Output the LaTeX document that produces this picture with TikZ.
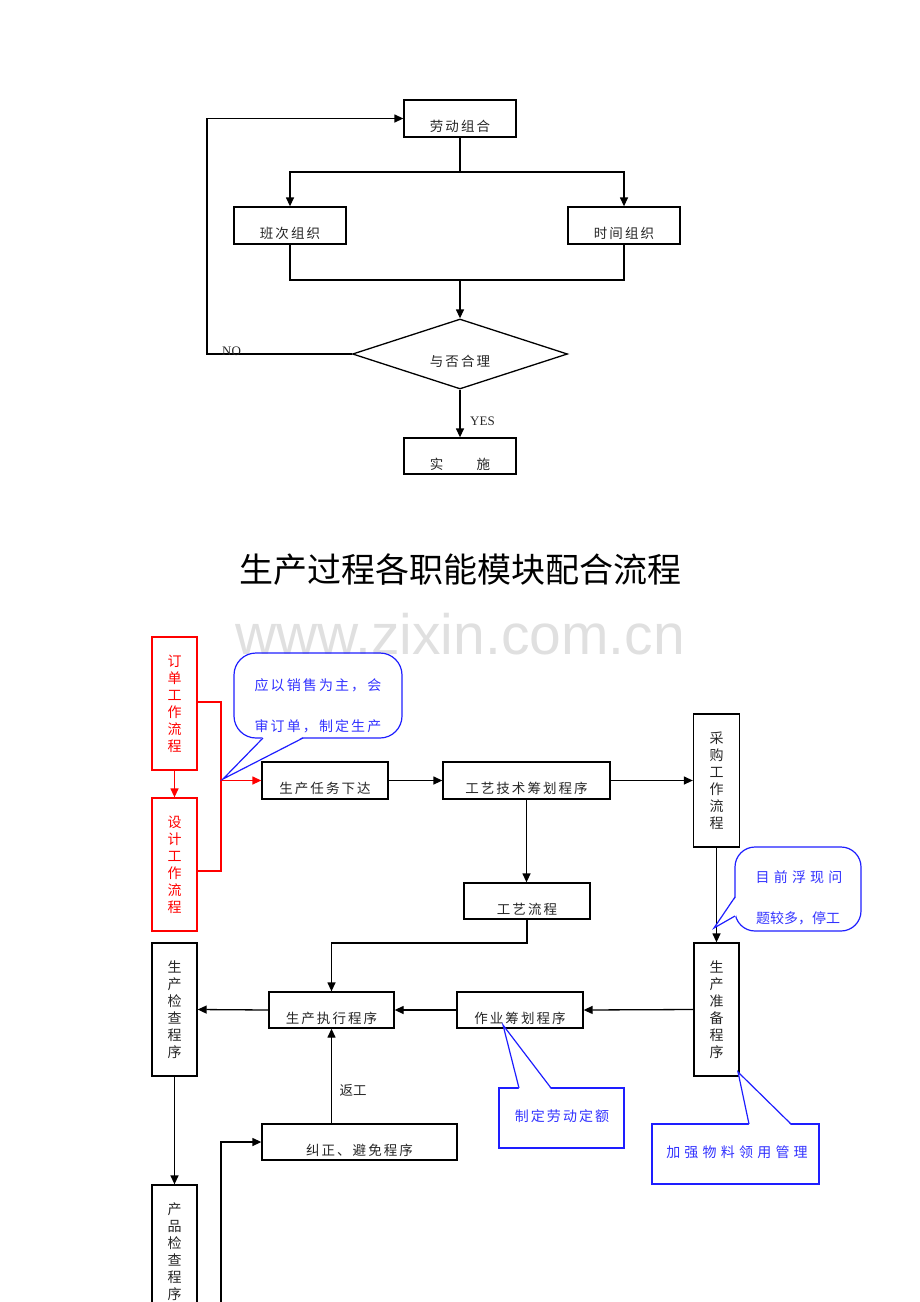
\documentclass[tikz,border=0pt]{standalone}
\usepackage{fontspec}
\setmainfont{Liberation Serif}
\newfontfamily\cjk{Noto Sans CJK SC}
\newfontfamily\cjkls[LetterSpace=15]{Noto Sans CJK SC}
\newfontfamily\cjkwide[LetterSpace=30]{Noto Sans CJK SC}
\newfontfamily\wmfont{Liberation Sans}
\usetikzlibrary{shapes.geometric,arrows.meta,calc}
\definecolor{cblue}{RGB}{30,30,255}
\definecolor{ctblue}{RGB}{50,50,255}
\definecolor{cred}{RGB}{255,0,0}
\definecolor{wmgrey}{RGB}{224,224,224}
\begin{document}
\begin{tikzpicture}[x=1pt,y=-1pt,
  box/.style={draw=black, line width=1.3pt, rectangle, inner sep=0pt},
  rbox/.style={box, draw=cred},
  lbl/.style={font=\cjkls\fontsize{13.5}{16}\selectfont, inner sep=0pt, text=black!85},
  vlbl/.style={font=\cjk\fontsize{14}{17}\selectfont, align=center, inner sep=0pt, text=black!85},
  clbl/.style={font=\cjkls\fontsize{14}{16}\selectfont, inner sep=0pt, text=ctblue},
  arr/.style={line width=1.3pt, -{Triangle[length=9pt,width=8pt]}},
  ln/.style={line width=1.3pt},
  bline/.style={draw=cblue, line width=1.2pt},
  elbl/.style={font=\fontsize{13}{15}\selectfont, inner sep=0pt, text=black!85}
]
\useasboundingbox (0,0) rectangle (920,1302);
\clip (0,0) rectangle (920,1302);

% ---------------- upper flowchart ----------------
\node[box, minimum width=112, minimum height=37] (ldzh) at (460,118.5) {};
\node[lbl] (ldzhT) at ($(ldzh.center)+(0,8)$) {劳动组合};
\node[box, minimum width=112, minimum height=37] (bczz) at (290,225.5) {};
\node[lbl] (bczzT) at ($(bczz.center)+(0,8)$) {班次组织};
\node[box, minimum width=112, minimum height=37] (sjzz) at (624,225.5) {};
\node[lbl] (sjzzT) at ($(sjzz.center)+(0,8)$) {时间组织};
\node[draw, line width=1.3pt, diamond, aspect=3, minimum width=215, minimum height=70, inner sep=0pt] (hl) at (460,354) {};
\node[lbl] (hlT) at ($(hl.center)+(0,7)$) {与否合理};
\node[box, minimum width=112, minimum height=36] (ss) at (460,456) {};
\node[lbl] (ssT) at ($(ss.center)+(0,8)$) {实　　施};

\coordinate (j1) at (460,172);
\coordinate (j2) at (460,280);
\draw[ln] (ldzh.south) -- (j1);
\draw[arr] (j1) -| (bczz.north);
\draw[arr] (j1) -| (sjzz.north);
\draw[ln] (bczz.south) -- (bczz.south |- j2) -- (sjzz.south |- j2) -- (sjzz.south);
\draw[arr] (j2) -- (hl.north);
\coordinate (nox) at (207,354);
\draw[arr] (hl.west) -- (nox) |- (ldzh.west);
\node[elbl, anchor=south west] (noT) at (222,356) {NO};
\draw[arr] (hl.south) -- (ss.north);
\node[elbl, anchor=south west] (yesT) at (470,426) {YES};

% ---------------- title and watermark ----------------
\node[font=\cjk\fontsize{34}{40}\selectfont, inner sep=0pt] (title) at (460,570) {生产过程各职能模块配合流程};
\node[font=\wmfont\fontsize{57}{60}\selectfont, text=wmgrey, inner sep=0pt] (wm) at (460,634) {www.zixin.com.cn};

% ---------------- lower flowchart ----------------
\node[rbox, minimum width=45, minimum height=133] (dd) at (174.5,703.5) {};
\node[vlbl, text=cred] (ddT) at (dd.center) {订\\单\\工\\作\\流\\程};
\node[rbox, minimum width=45, minimum height=133] (sj) at (174.5,864.5) {};
\node[vlbl, text=cred] (sjT) at (sj.center) {设\\计\\工\\作\\流\\程};

\node[box, minimum width=126, minimum height=37] (rw) at (325,780.5) {};
\node[lbl] (rwT) at ($(rw.center)+(0,8)$) {生产任务下达};
\node[box, minimum width=167, minimum height=37] (gy) at (526.5,780.5) {};
\node[lbl] (gyT) at ($(gy.center)+(0,8)$) {工艺技术筹划程序};
\node[box, minimum width=46, minimum height=133] (cg) at (716.5,780.5) {};
\node[vlbl] (cgT) at (cg.center) {采\\购\\工\\作\\流\\程};
\node[box, minimum width=126, minimum height=36] (gl) at (527,901) {};
\node[lbl] (glT) at ($(gl.center)+(0,8)$) {工艺流程};
\node[box, minimum width=45, minimum height=133] (zb) at (716.5,1009.5) {};
\node[vlbl] (zbT) at (zb.center) {生\\产\\准\\备\\程\\序};
\node[box, minimum width=45, minimum height=133] (jc) at (174.5,1009.5) {};
\node[vlbl] (jcT) at (jc.center) {生\\产\\检\\查\\程\\序};
\node[box, minimum width=125, minimum height=36] (zx) at (331.5,1010) {};
\node[lbl] (zxT) at ($(zx.center)+(0,8)$) {生产执行程序};
\node[box, minimum width=126, minimum height=36] (zy) at (520,1010) {};
\node[lbl] (zyT) at ($(zy.center)+(0,8)$) {作业筹划程序};
\node[box, minimum width=45, minimum height=133] (cp) at (174.5,1251.5) {};
\node[vlbl] (cpT) at (cp.center) {产\\品\\检\\查\\程\\序};
\node[box, minimum width=195, minimum height=36] (jz) at (359.5,1142) {};
\node[lbl] (jzT) at ($(jz.center)+(0,8)$) {纠正、避免程序};

% red connectors
\draw[arr, draw=cred, fill=cred] (dd.south) -- (sj.north);
\coordinate (r1) at (221,702);
\coordinate (r2) at (221,871);
\coordinate (rj) at (221,780.5);
\draw[ln, draw=cred] (dd.east |- r1) -- (r1) -- (r2) -- (sj.east |- r2);
\draw[arr, draw=cred, fill=cred] (rj) -- (rw.west);

% black connectors
\draw[arr] (rw.east) -- (gy.west);
\draw[arr] (gy.east) -- (cg.west);
\draw[arr] (gy.south) -- (gy.south |- gl.north);
\draw[arr] (cg.south) -- (zb.north);
\coordinate (k1) at (527,943);
\draw[arr] (gl.south) -- (k1) -| (zx.north);
\draw[arr] (zb.west) -- (zy.east);
\draw[arr] (zy.west) -- (zx.east);
\draw[arr] (zx.west) -- (jc.east);
\draw[arr] (jc.south) -- (cp.north);
\draw[arr] (zx.south |- jz.north) -- (zx.south);
\node[font=\cjk\fontsize{13.5}{16}\selectfont, inner sep=0pt, text=black!85] (fgT) at (353,1090) {返工};
\coordinate (b1) at (221,1310);
\draw[arr] (b1) |- (jz.west);

% ---------------- callouts ----------------
% callout 1
\node[bline, rounded corners=22, minimum width=168, minimum height=85, inner sep=0pt] (co1) at (318,695.5) {};
\coordinate (co1a) at (263,738);
\coordinate (co1b) at (303,738);
\coordinate (co1t) at (223,779);
\fill[white] ($(co1a)+(0,-1.2)$) -- (co1t) -- ($(co1b)+(0,-1.2)$) -- cycle;
\draw[bline] (co1a) -- (co1t) -- (co1b);
\node[clbl] (co1T1) at (318,685) {应以销售为主，会};
\node[clbl] (co1T2) at (318,726) {审订单，制定生产};

% callout 2
\node[bline, rounded corners=20, minimum width=126, minimum height=84, inner sep=0pt] (co2) at (798,889) {};
\coordinate (co2a) at (735,897);
\coordinate (co2b) at (735,916);
\coordinate (co2t) at (714,928);
\fill[white] ($(co2a)+(1.2,0)$) -- (co2t) -- ($(co2b)+(1.2,0)$) -- cycle;
\draw[bline] (co2a) -- (co2t) -- (co2b);
\node[font=\cjkwide\fontsize{14}{16}\selectfont, inner sep=0pt, text=ctblue] (co2T1) at (799,877) {目前浮现问};
\node[clbl, font=\cjk\fontsize{14}{16}\selectfont] (co2T2) at (798,918) {题较多，停工};

% callout 3
\node[bline, minimum width=125, minimum height=60, inner sep=0pt] (co3) at (561.5,1118) {};
\coordinate (co3a) at (519,1088);
\coordinate (co3b) at (551,1088);
\coordinate (co3t) at (503,1025);
\fill[white] ($(co3a)+(0,1.2)$) -- (co3t) -- ($(co3b)+(0,1.2)$) -- cycle;
\draw[bline] (co3a) -- (co3t) -- (co3b);
\node[clbl] (co3T) at (562,1116) {制定劳动定额};

% callout 4
\node[bline, minimum width=167, minimum height=60, inner sep=0pt] (co4) at (735.5,1154) {};
\coordinate (co4a) at (749,1124);
\coordinate (co4b) at (791,1124);
\coordinate (co4t) at (738,1072);
\fill[white] ($(co4a)+(0,1.2)$) -- (co4t) -- ($(co4b)+(0,1.2)$) -- cycle;
\draw[bline] (co4a) -- (co4t) -- (co4b);
\node[font=\cjkwide\fontsize{14}{16}\selectfont, inner sep=0pt, text=ctblue] (co4T) at (737,1152) {加强物料领用管理};
\end{tikzpicture}
\end{document}
